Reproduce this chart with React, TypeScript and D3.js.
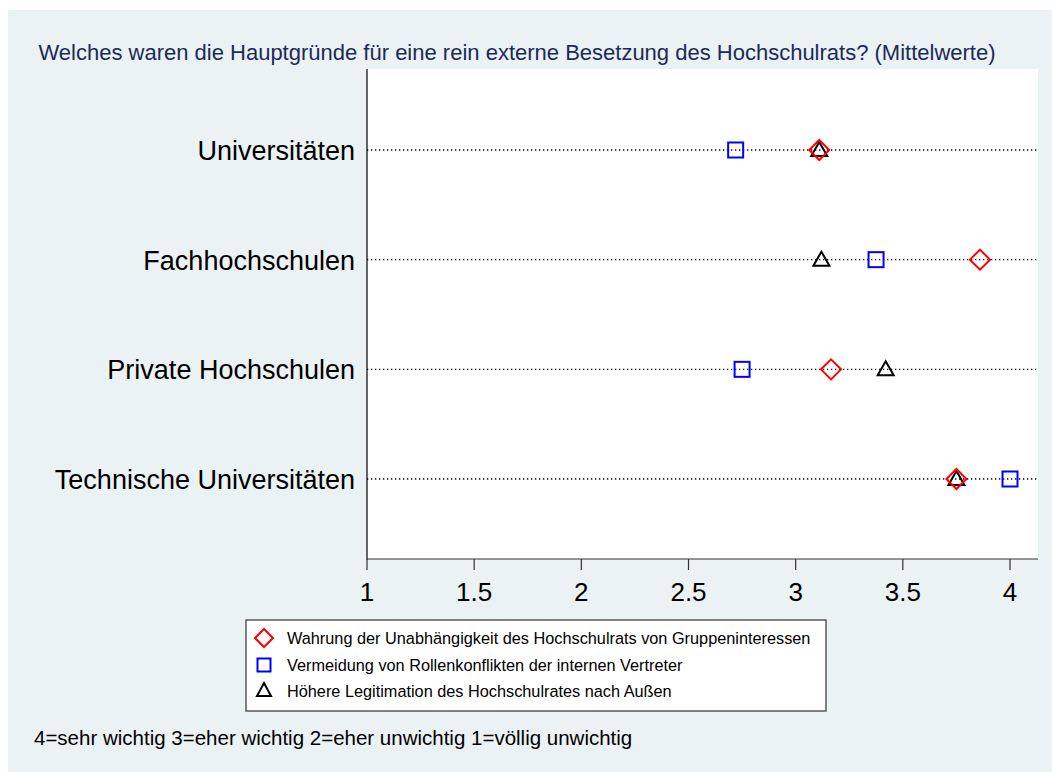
import React, { useEffect, useRef } from "react";
import * as d3 from "d3";

// mean values per group (4=sehr wichtig ... 1=völlig unwichtig)
const categories = [
  "Universitäten",
  "Fachhochschulen",
  "Private Hochschulen",
  "Technische Universitäten",
];
const unabhaengigkeit = [3.11, 3.86, 3.165, 3.75];
const rollenkonflikte = [2.72, 3.375, 2.75, 4.0];
const legitimation = [3.11, 3.12, 3.42, 3.75];
const xTicks = [1, 1.5, 2, 2.5, 3, 3.5, 4];

const seriesNames = [
  "Wahrung der Unabhängigkeit des Hochschulrats von Gruppeninteressen",
  "Vermeidung von Rollenkonflikten der internen Vertreter",
  "Höhere Legitimation des Hochschulrates nach Außen",
];

const title =
  "Welches waren die Hauptgründe für eine rein externe Besetzung des Hochschulrats? (Mittelwerte)";
const note = "4=sehr wichtig 3=eher wichtig 2=eher unwichtig 1=völlig unwichtig";

const FONT = "Arial, 'Liberation Sans', sans-serif";

export default function App() {
  const svgRef = useRef<SVGSVGElement>(null);

  useEffect(() => {
    const W = 1052;
    const H = 772;
    const plot = { left: 367, right: 1038, top: 69, bottom: 559 };

    const svg = d3.select(svgRef.current).attr("width", W).attr("height", H);
    svg.selectAll("*").remove();

    // background + plot region
    svg.append("rect").attr("x", 8).attr("y", 10).attr("width", W - 8).attr("height", H - 10).attr("fill", "#eaf2f3");
    svg
      .append("rect")
      .attr("x", plot.left)
      .attr("y", plot.top)
      .attr("width", plot.right - plot.left)
      .attr("height", plot.bottom - plot.top)
      .attr("fill", "#ffffff");

    const x = d3.scaleLinear().domain([1, 4]).range([367, 1010]);
    const y = d3.scalePoint<string>().domain(categories).range([150, 479]);

    // dotted grid lines per category
    svg
      .append("g")
      .selectAll("line")
      .data(categories)
      .join("line")
      .attr("x1", plot.left)
      .attr("x2", plot.right)
      .attr("y1", (d) => y(d)!)
      .attr("y2", (d) => y(d)!)
      .attr("stroke", "#000")
      .attr("stroke-width", 1.3)
      .attr("stroke-dasharray", "1.3 2.7");

    // axes
    const ax = svg.append("g").attr("stroke", "#000").attr("stroke-width", 1.2);
    ax.append("line").attr("x1", plot.left).attr("x2", plot.left).attr("y1", plot.top).attr("y2", plot.bottom + 0.5);
    ax.append("line").attr("x1", plot.left).attr("x2", plot.right).attr("y1", plot.bottom).attr("y2", plot.bottom).attr("stroke", "#333");

    const xAxis = svg.append("g");
    xAxis
      .selectAll("line")
      .data(xTicks)
      .join("line")
      .attr("x1", (d) => x(d))
      .attr("x2", (d) => x(d))
      .attr("y1", plot.bottom)
      .attr("y2", plot.bottom + 11)
      .attr("stroke", "#333")
      .attr("stroke-width", 1.2);
    xAxis
      .selectAll("text")
      .data(xTicks)
      .join("text")
      .attr("x", (d) => x(d))
      .attr("y", 601)
      .attr("text-anchor", "middle")
      .attr("font-family", FONT)
      .attr("font-size", 26)
      .attr("fill", "#000")
      .text((d) => String(d));

    svg
      .append("g")
      .selectAll("text")
      .data(categories)
      .join("text")
      .attr("x", 355)
      .attr("y", (d) => y(d)! + 10)
      .attr("text-anchor", "end")
      .attr("font-family", FONT)
      .attr("font-size", 27)
      .attr("fill", "#000")
      .text((d) => d);

    // title + footer note
    svg
      .append("text")
      .attr("x", 517)
      .attr("y", 60)
      .attr("text-anchor", "middle")
      .attr("font-family", FONT)
      .attr("font-size", 22)
      .attr("fill", "#1c2a5a")
      .text(title);
    svg
      .append("text")
      .attr("x", 34)
      .attr("y", 745)
      .attr("font-family", FONT)
      .attr("font-size", 20.5)
      .attr("fill", "#000")
      .text(note);

    // marker shapes
    const diamond = (g: any, cx: number, cy: number, s = 10) =>
      g
        .append("path")
        .attr("d", `M${cx},${cy - s}L${cx + s},${cy}L${cx},${cy + s}L${cx - s},${cy}Z`)
        .attr("fill", "none")
        .attr("stroke", "#ff0000")
        .attr("stroke-width", 2);
    const square = (g: any, cx: number, cy: number, s = 7.5) =>
      g
        .append("rect")
        .attr("x", cx - s)
        .attr("y", cy - s)
        .attr("width", 2 * s)
        .attr("height", 2 * s)
        .attr("fill", "none")
        .attr("stroke", "#0000ff")
        .attr("stroke-width", 2);
    const triangle = (g: any, cx: number, cy: number, s = 8) =>
      g
        .append("path")
        .attr("d", `M${cx},${cy - s}L${cx + s},${cy + 6}L${cx - s},${cy + 6}Z`)
        .attr("fill", "none")
        .attr("stroke", "#000")
        .attr("stroke-width", 2);

    const marks = svg.append("g");
    categories.forEach((c, i) => {
      square(marks, x(rollenkonflikte[i]), y(c)!);
      triangle(marks, x(legitimation[i]), y(c)!);
      diamond(marks, x(unabhaengigkeit[i]), y(c)!);
    });

    // legend
    const lg = svg.append("g");
    lg.append("rect")
      .attr("x", 246)
      .attr("y", 620)
      .attr("width", 580)
      .attr("height", 91)
      .attr("fill", "#ffffff")
      .attr("stroke", "#333")
      .attr("stroke-width", 1.2);
    const rows = [638, 665, 691];
    diamond(lg, 264, rows[0], 9);
    square(lg, 264, rows[1], 6.5);
    triangle(lg, 264, rows[2] - 1, 7);
    lg.selectAll("text")
      .data(seriesNames)
      .join("text")
      .attr("x", 287)
      .attr("y", (d, i) => rows[i] + 6)
      .attr("font-family", FONT)
      .attr("font-size", 16.3)
      .attr("fill", "#000")
      .text((d) => d);
  }, []);

  return (
    <svg
      ref={svgRef}
      style={{ position: "absolute", left: 0, top: 0, display: "block" }}
    ></svg>
  );
}
